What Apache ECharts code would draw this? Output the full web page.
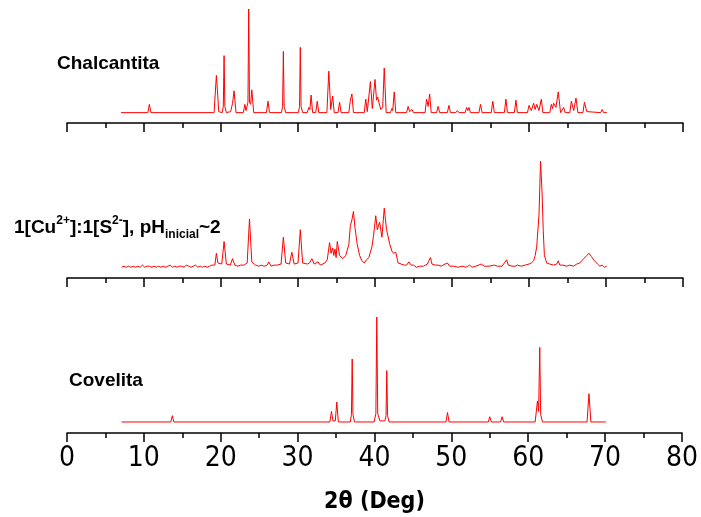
<!DOCTYPE html>
<html>
<head>
<meta charset="utf-8">
<script src="https://cdn.jsdelivr.net/npm/echarts@6/dist/echarts.min.js"></script>
<style>
  html, body { margin: 0; padding: 0; background: #fff; }
  #chart { width: 701px; height: 517px; }
</style>
</head>
<body>
<div id="chart"></div>
<script>
// tick labels of the shared 2theta axis
var xTicks = [0, 10, 20, 30, 40, 50, 60, 70, 80]

// Chalcantita pattern, [2theta, relative intensity]
var chalcantita = [
  [7.0,0],[10.5,0],[10.7,8],[10.9,0],
  [19.1,0],[19.4,36],[19.55,20],[19.7,1],
  [20.15,0],[20.3,6],[20.4,55],[20.5,6],[20.7,0],
  [21.25,1],[21.5,9],[21.7,21],[21.95,0],
  [22.9,0],[23.1,8],[23.25,2],[23.4,3],[23.5,10],[23.6,100],[23.7,10],[23.85,8],[24.0,22],[24.25,0],
  [25.9,0],[26.1,11],[26.3,0],
  [27.85,0],[28.0,6],[28.1,59],[28.2,6],[28.4,0],
  [30.05,0],[30.2,6],[30.3,63],[30.4,6],[30.6,0],
  [31.2,0],[31.4,5],[31.55,3],[31.7,17],[31.9,0],
  [32.3,0],[32.5,11],[32.7,0],
  [33.75,0],[34.0,40],[34.25,3],[34.5,16],[34.7,0],
  [35.2,0],[35.4,10],[35.6,0],
  [36.6,0],[36.8,12],[37.0,18],[37.2,0],
  [38.6,0],[38.8,13],[39.0,1],[39.2,2],[39.4,30],[39.65,4],[40.0,32],[40.2,12],[40.35,15],[40.5,10],[40.75,3],[41.0,5],[41.2,43],[41.45,0],
  [42.0,0],[42.2,4],[42.3,2],[42.5,20],[42.7,0],
  [44.1,0],[44.3,6],[44.5,1],[44.8,3],[45.0,0],
  [46.5,0],[46.7,13],[46.9,6],[47.1,18],[47.3,0],
  [48.0,0],[48.2,6],[48.4,0],
  [49.4,0],[49.6,7],[49.8,0],
  [50.5,0],[50.7,2],[50.9,0],
  [51.7,0],[51.9,5],[52.05,2],[52.2,5],[52.4,0],
  [53.5,0],[53.7,8],[53.9,0],
  [55.1,0],[55.3,11],[55.5,0],
  [56.8,0],[57.0,13],[57.2,0],
  [58.1,0],[58.3,12],[58.5,0],
  [59.8,0],[60.0,7],[60.3,2],[60.6,9],[60.8,3],[61.0,8],[61.3,2],[61.6,13],[61.8,0],
  [62.7,0],[62.9,8],[63.05,4],[63.2,9],[63.5,5],[63.8,20],[64.1,0],
  [64.3,0],[64.5,5],[64.7,0],
  [65.3,0],[65.5,11],[65.8,2],[66.1,14],[66.35,0],
  [67.0,0],[67.2,10],[67.5,1],
  [69.3,0],[69.5,3],[69.7,0],[70.1,0]
]

// 1[Cu2+]:1[S2-] sample, pH inicial ~2
var sample = [
  [7.1,1],[7.4,2],[7.7,1],[8.0,2],[8.3,1],[8.6,2],[8.9,1],[9.2,2],[9.5,1],[9.8,3],[10.1,1],[10.4,2],
  [10.7,2],[11.0,1],[11.3,2],[11.6,1],[11.9,2],[12.2,1],[12.5,2],[12.8,1],[13.1,2],[13.4,3],[13.7,1],
  [14.0,2],[14.3,1],[14.6,2],[14.9,2],[15.2,1],[15.5,3],[15.8,2],[16.1,1],[16.4,2],[16.7,3],[17.0,1],
  [17.3,2],[17.6,1],[17.9,2],[18.2,1],[18.5,2],[18.8,3],
  [19.2,3],[19.4,14],[19.6,5],[20.1,4],[20.4,25],[20.7,4],[21.2,3],[21.5,9],[21.8,3],[22.2,2],[22.5,3],
  [23.0,3],[23.4,5],[23.7,46],[24.0,6],[24.5,3],[24.9,2],[25.2,3],[25.6,2],[26.0,3],[26.2,6],[26.5,2],
  [26.9,3],[27.3,3],[27.8,4],[28.1,29],[28.4,5],[28.9,4],[29.2,15],[29.5,4],[30.0,5],[30.3,36],[30.6,5],
  [31.2,4],[31.5,5],[31.8,9],[32.1,4],[32.6,6],[32.9,3],[33.5,5],[33.8,8],[34.1,24],[34.3,14],[34.5,19],
  [34.65,12],[34.8,18],[34.95,10],[35.1,25],[35.4,12],[35.8,9],[36.2,12],[36.6,22],[36.8,40],[37.0,45],
  [37.2,53],[37.4,38],[37.7,22],[38.0,12],[38.3,7],[38.6,5],[38.9,8],[39.2,10],[39.4,11],[39.6,20],
  [39.8,30],[40.1,49],[40.3,36],[40.6,43],[40.9,29],[41.2,56],[41.5,36],[41.9,23],[42.2,16],[42.4,14],
  [42.7,15],[43.0,5],[43.4,4],[43.8,3],[44.1,3],[44.4,6],[44.7,3],[45.0,3],[45.4,1],[45.8,2],[46.3,2],
  [46.8,4],[47.0,7],[47.2,10],[47.4,4],[47.8,3],[48.2,3],[48.6,2],[49.1,4],[49.4,5],[49.7,2],[50.2,2],
  [50.8,1],[51.3,2],[51.8,1],[52.3,3],[52.6,1],[53.1,2],[53.8,4],[54.2,2],[54.8,2],[55.5,3],[55.9,2],
  [56.5,2],[57.1,8],[57.3,3],[57.8,2],[58.2,2],[58.5,3],[59.0,2],[59.5,3],[60.0,4],[60.3,5],[60.6,7],
  [60.8,12],[61.0,20],[61.3,50],[61.5,100],[61.7,70],[61.85,35],[62.0,12],[62.3,5],[62.7,4],[63.2,3],
  [63.6,4],[63.8,7],[64.0,3],[64.4,3],[64.9,2],[65.3,3],[65.8,2],[66.2,4],[66.6,5],[67.1,9],[67.5,12],
  [67.8,14],[68.1,11],[68.5,7],[68.9,4],[69.2,2],[69.5,3],[69.8,1],[70.1,2]
]

// Covelita pattern
var covelita = [
  [7.1,0],[13.5,0],[13.7,6],[13.9,0],
  [34.2,0],[34.4,10],[34.6,1],[34.9,1],[35.1,19],[35.3,0],
  [36.85,0],[37.0,7],[37.1,60],[37.2,7],[37.4,0],
  [39.95,0],[40.18,8],[40.3,100],[40.42,8],[40.7,1],
  [41.35,1],[41.5,6],[41.6,49],[41.7,6],[41.9,0],
  [49.3,0],[49.5,9],[49.7,0],
  [54.8,0],[55.0,5],[55.2,0],
  [56.4,0],[56.6,5],[56.8,0],
  [60.9,0],[61.2,20],[61.35,10],[61.5,71],[61.62,7],[61.85,0],
  [67.65,0],[67.9,27],[68.15,0],
  [70.1,0]
]

var labelFont = 'Liberation Sans Narrow, DejaVu Sans Condensed, Liberation Sans, sans-serif'
var boldFont = 'Liberation Sans, Arial, sans-serif'

function makeX(idx, showLabels){
  return {
    type: 'value', gridIndex: idx, min: 0, max: 80, interval: 10,
    axisLine: { show: true, onZero: false, lineStyle: { color: '#000', width: 1.5 } },
    axisTick: { show: true, length: 9, lineStyle: { color: '#000', width: 1.5 } },
    minorTick: { show: true, splitNumber: 2, length: 5, lineStyle: { color: '#000', width: 1.5 } },
    splitLine: { show: false },
    axisLabel: {
      show: showLabels, color: '#000', fontSize: 28, fontFamily: labelFont, margin: 12,
      formatter: function(v){ return xTicks.indexOf(v) >= 0 ? String(v) : '' }
    },
    name: showLabels ? '2θ (Deg)' : '',
    nameLocation: 'middle', nameGap: 58,
    nameTextStyle: { color: '#000', fontSize: 23, fontWeight: 'bold', fontFamily: labelFont }
  }
}
function makeY(idx, lo){
  return { type: 'value', gridIndex: idx, min: lo, max: 100, show: false, splitLine: { show: false } }
}
function makeSeries(idx, data){
  return {
    type: 'line', xAxisIndex: idx, yAxisIndex: idx, data: data,
    showSymbol: false, symbol: 'none',
    lineStyle: { color: '#ff0000', width: 1 }
  }
}

var myChart = echarts.init(document.getElementById('chart'))
myChart.setOption({
  animation: false,
  backgroundColor: '#fff',
  grid: [
    { left: 67, right: 18, top: 9, height: 114 },
    { left: 67, right: 18, top: 161, height: 117 },
    { left: 67, right: 18, top: 317, height: 116 }
  ],
  xAxis: [makeX(0, false), makeX(1, false), makeX(2, true)],
  yAxis: [makeY(0, -10), makeY(1, -9), makeY(2, -10.5)],
  series: [makeSeries(0, chalcantita), makeSeries(1, sample), makeSeries(2, covelita)],
  graphic: [
    { type: 'text', left: 57, top: 54,
      style: { text: 'Chalcantita', font: 'bold 19px ' + boldFont, fill: '#000' } },
    { type: 'text', left: 69, top: 371,
      style: { text: 'Covelita', font: 'bold 19px ' + boldFont, fill: '#000' } },
    { type: 'text', left: 14, top: 215,
      style: {
        text: '{m|1[Cu}{sp|2+}{m|]:1[S}{sp|2-}{m|], pH}{sb|inicial}{m|~2}',
        fill: '#000',
        rich: {
          m: { fontSize: 19, fontWeight: 'bold', fontFamily: boldFont, color: '#000', lineHeight: 26 },
          sp: { fontSize: 12, fontWeight: 'bold', fontFamily: boldFont, color: '#000', lineHeight: 14, verticalAlign: 'top' },
          sb: { fontSize: 12, fontWeight: 'bold', fontFamily: boldFont, color: '#000', lineHeight: 12, verticalAlign: 'bottom' }
        }
      } }
  ]
})
</script>
</body>
</html>
